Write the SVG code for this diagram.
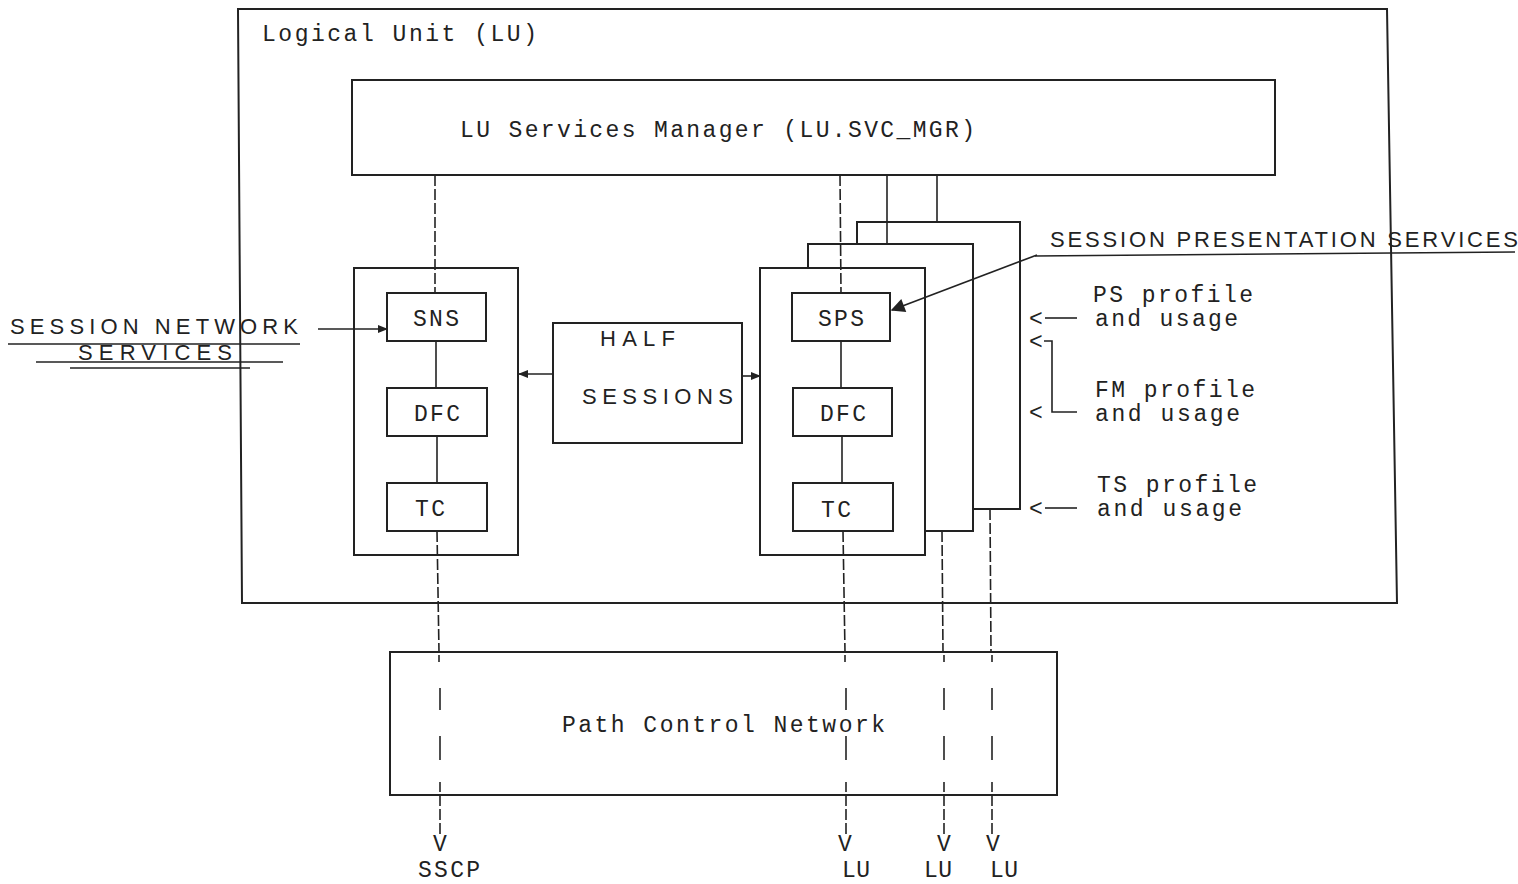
<svg xmlns="http://www.w3.org/2000/svg" width="1518" height="884" viewBox="0 0 1518 884">
<defs>
<style>
.box{fill:none;stroke:#222;stroke-width:2}
.ln{fill:none;stroke:#222;stroke-width:1.6}
.dl{fill:none;stroke:#222;stroke-width:1.6;stroke-dasharray:11 3}
.t{font-family:"Liberation Mono","DejaVu Sans Mono",monospace;font-size:23px;fill:#222}
.h{font-family:"Liberation Sans","DejaVu Sans",sans-serif;font-size:22px;fill:#222}
</style>
<marker id="ahs" viewBox="0 0 10 10" refX="9" refY="5" markerWidth="10" markerHeight="10" orient="auto" markerUnits="userSpaceOnUse">
<path d="M0,1 L10,5 L0,9 z" fill="#222"/>
</marker>
<marker id="ahb" viewBox="0 0 10 10" refX="9" refY="5" markerWidth="16" markerHeight="14" orient="auto" markerUnits="userSpaceOnUse">
<path d="M0,0 L10,5 L0,10 z" fill="#222"/>
</marker>
</defs>
<rect width="1518" height="884" fill="#fff"/>

<g id="lu">
<path class="box" d="M238,9 L1387,9 L1397,603 L242,603 Z"/>
<text class="t" x="262" y="41" textLength="275" lengthAdjust="spacing">Logical Unit (LU)</text>
</g>

<g id="svcmgr">
<rect class="box" x="352" y="80" width="923" height="95"/>
<text class="t" x="460" y="137" textLength="515" lengthAdjust="spacing">LU Services Manager (LU.SVC_MGR)</text>
</g>

<g id="connectors">
<line class="dl" x1="435" y1="175" x2="435" y2="293"/>
<line class="ln" x1="436" y1="341" x2="436" y2="388"/>
<line class="ln" x1="437" y1="436" x2="437" y2="483"/>
<line class="dl" x1="437" y1="531" x2="439" y2="652"/>
<line class="ln" x1="439" y1="655" x2="439" y2="662"/>
<line class="ln" x1="440" y1="688" x2="440" y2="710"/>
<line class="ln" x1="440" y1="736" x2="440" y2="760"/>
<line class="ln" x1="440" y1="782" x2="440" y2="792"/>
<line class="dl" x1="440" y1="795" x2="440" y2="835"/>
<line class="dl" x1="840" y1="175" x2="841" y2="293"/>
<line class="ln" x1="841" y1="341" x2="841" y2="388"/>
<line class="ln" x1="842" y1="436" x2="842" y2="483"/>
<line class="dl" x1="843" y1="531" x2="845" y2="652"/>
<line class="ln" x1="845" y1="655" x2="845" y2="662"/>
<line class="ln" x1="846" y1="688" x2="846" y2="710"/>
<line class="ln" x1="846" y1="736" x2="846" y2="760"/>
<line class="ln" x1="846" y1="782" x2="846" y2="792"/>
<line class="dl" x1="846" y1="795" x2="846" y2="835"/>
<line class="ln" x1="887" y1="175" x2="887" y2="244"/>
<line class="dl" x1="942" y1="531" x2="943" y2="652"/>
<line class="ln" x1="944" y1="655" x2="944" y2="662"/>
<line class="ln" x1="944" y1="688" x2="944" y2="710"/>
<line class="ln" x1="944" y1="736" x2="944" y2="760"/>
<line class="ln" x1="944" y1="782" x2="944" y2="792"/>
<line class="dl" x1="944" y1="795" x2="944" y2="835"/>
<line class="ln" x1="937" y1="175" x2="937" y2="222"/>
<line class="dl" x1="990" y1="509" x2="991" y2="652"/>
<line class="ln" x1="992" y1="655" x2="992" y2="662"/>
<line class="ln" x1="992" y1="688" x2="992" y2="710"/>
<line class="ln" x1="992" y1="736" x2="992" y2="760"/>
<line class="ln" x1="992" y1="782" x2="992" y2="792"/>
<line class="dl" x1="992" y1="795" x2="992" y2="835"/>
<line class="ln" x1="553" y1="374" x2="519" y2="374" marker-end="url(#ahs)"/>
<line class="ln" x1="742" y1="376" x2="760" y2="376" marker-end="url(#ahs)"/>
<line class="ln" x1="318" y1="329" x2="387" y2="329" marker-end="url(#ahs)"/>
<line class="ln" x1="1037" y1="255" x2="892" y2="310" marker-end="url(#ahb)"/>
<line class="ln" x1="1045" y1="318" x2="1077" y2="318"/>
<path class="ln" d="M1044,341 L1052,341 L1052,412 L1077,412"/>
<line class="ln" x1="1045" y1="508" x2="1077" y2="508"/>
</g>

<g id="annot-sns">
<text class="h" x="10" y="334" textLength="288" lengthAdjust="spacing">SESSION NETWORK</text>
<text class="h" x="78" y="360" textLength="154" lengthAdjust="spacing">SERVICES</text>
<line class="ln" x1="8" y1="344" x2="300" y2="344"/>
<line class="ln" x1="36" y1="362" x2="283" y2="362"/>
<line class="ln" x1="70" y1="368" x2="250" y2="368"/>
</g>

<g id="annot-sps">
<text class="h" x="1050" y="247" textLength="468" lengthAdjust="spacing">SESSION PRESENTATION SERVICES</text>
<line class="ln" x1="1035" y1="256" x2="1515" y2="252"/>
</g>

<g id="hs-left">
<rect class="box" x="354" y="268" width="164" height="287"/>
</g>
<g id="sns">
<rect class="box" x="387" y="293" width="99" height="48"/>
<text class="t" x="413" y="326" textLength="46" lengthAdjust="spacing">SNS</text>
</g>
<g id="dfc-left">
<rect class="box" x="387" y="388" width="100" height="48"/>
<text class="t" x="414" y="421" textLength="46" lengthAdjust="spacing">DFC</text>
</g>
<g id="tc-left">
<rect class="box" x="387" y="483" width="100" height="48"/>
<text class="t" x="415" y="516" textLength="30" lengthAdjust="spacing">TC</text>
</g>

<g id="half-sessions">
<rect class="box" x="553" y="323" width="189" height="120"/>
<text class="h" x="600" y="346" textLength="75" lengthAdjust="spacing">HALF</text>
<text class="h" x="582" y="404" textLength="151" lengthAdjust="spacing">SESSIONS</text>
</g>

<g id="hs-back">
<path class="box" d="M857,244 L857,222 L1020,222 L1020,509 L973,509"/>
</g>
<g id="hs-middle">
<path class="box" d="M808,268 L808,244 L973,244 L973,531 L925,531"/>
</g>
<g id="hs-front">
<rect class="box" x="760" y="268" width="165" height="287"/>
</g>
<g id="sps">
<rect class="box" x="792" y="293" width="98" height="48"/>
<text class="t" x="818" y="326" textLength="46" lengthAdjust="spacing">SPS</text>
</g>
<g id="dfc-right">
<rect class="box" x="793" y="388" width="99" height="48"/>
<text class="t" x="820" y="421" textLength="46" lengthAdjust="spacing">DFC</text>
</g>
<g id="tc-right">
<rect class="box" x="793" y="483" width="100" height="48"/>
<text class="t" x="821" y="517" textLength="30" lengthAdjust="spacing">TC</text>
</g>

<g id="profiles">
<text class="t" x="1029" y="326">&lt;</text>
<text class="t" x="1093" y="302" textLength="160" lengthAdjust="spacing">PS profile</text>
<text class="t" x="1095" y="326" textLength="143" lengthAdjust="spacing">and usage</text>
<text class="t" x="1029" y="349">&lt;</text>
<text class="t" x="1029" y="420">&lt;</text>
<text class="t" x="1095" y="397" textLength="160" lengthAdjust="spacing">FM profile</text>
<text class="t" x="1095" y="421" textLength="145" lengthAdjust="spacing">and usage</text>
<text class="t" x="1029" y="516">&lt;</text>
<text class="t" x="1097" y="492" textLength="160" lengthAdjust="spacing">TS profile</text>
<text class="t" x="1097" y="516" textLength="145" lengthAdjust="spacing">and usage</text>
</g>

<g id="pcn">
<rect class="box" x="390" y="652" width="667" height="143"/>
<text class="t" x="562" y="732" textLength="323" lengthAdjust="spacing">Path Control Network</text>
</g>

<g id="endpoints">
<text class="t" x="433" y="851">V</text>
<text class="t" x="418" y="877" textLength="62" lengthAdjust="spacing">SSCP</text>
<text class="t" x="838" y="851">V</text>
<text class="t" x="842" y="877" textLength="28" lengthAdjust="spacing">LU</text>
<text class="t" x="937" y="851">V</text>
<text class="t" x="924" y="877" textLength="28" lengthAdjust="spacing">LU</text>
<text class="t" x="986" y="851">V</text>
<text class="t" x="990" y="877" textLength="28" lengthAdjust="spacing">LU</text>
</g>
</svg>
